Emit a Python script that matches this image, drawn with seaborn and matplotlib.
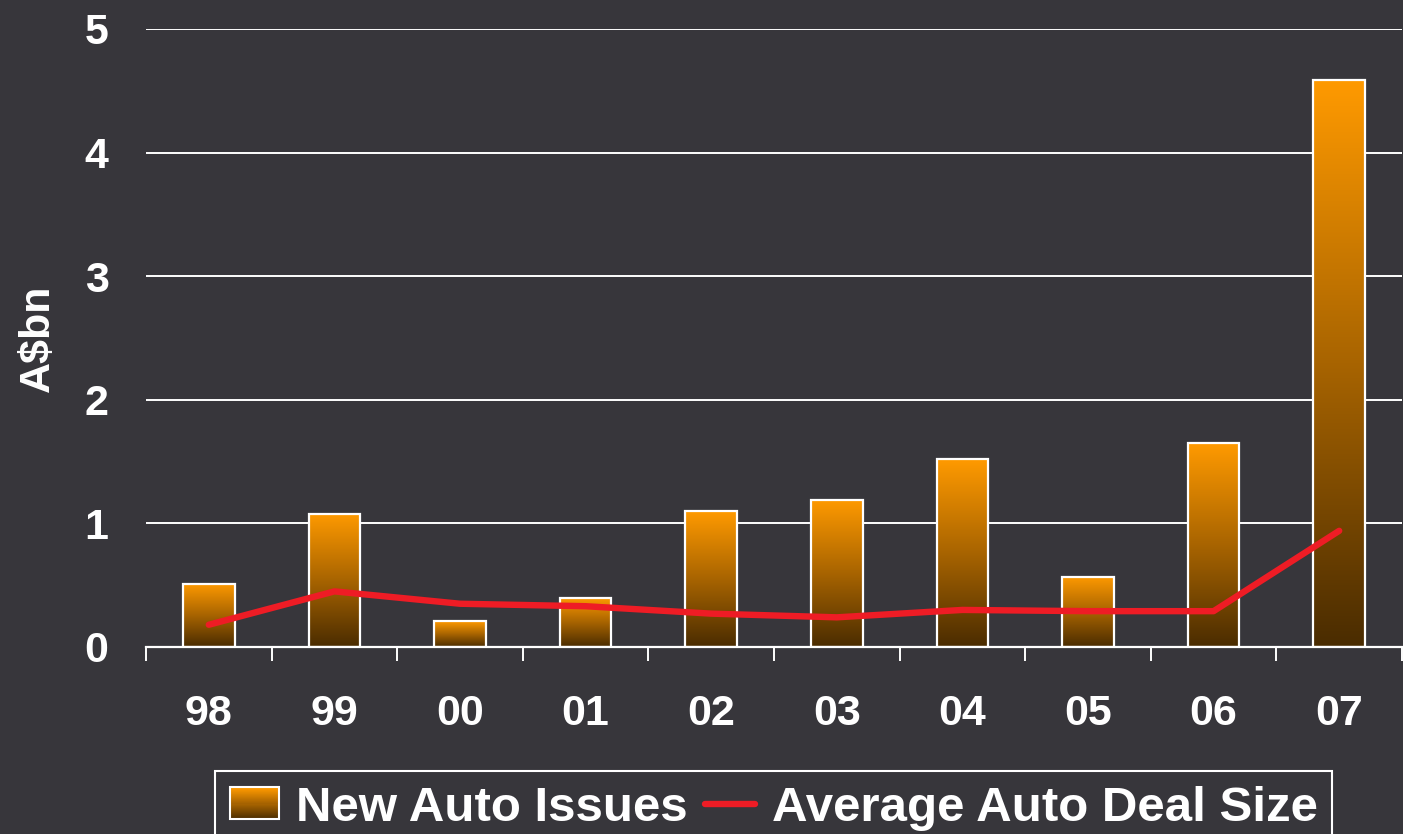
import numpy as np
import pandas as pd
import seaborn as sns
import matplotlib
import matplotlib.pyplot as plt
from matplotlib.colors import LinearSegmentedColormap
from matplotlib.patches import Rectangle
from matplotlib.lines import Line2D
from matplotlib.legend_handler import HandlerBase

matplotlib.use('Agg')

# Data
years = ["98", "99", "00", "01", "02", "03", "04", "05", "06", "07"]
new_issues = [0.51, 1.08, 0.21, 0.40, 1.10, 1.19, 1.52, 0.57, 1.65, 4.59]
avg_deal_size = [0.18, 0.45, 0.35, 0.33, 0.27, 0.24, 0.30, 0.29, 0.29, 0.94]

bg = "#37363b"
bar_cmap = LinearSegmentedColormap.from_list("auto", ["#4a2c00", "#a86400", "#ff9a00"])

sns.set_theme(style="dark")
plt.rcParams['font.family'] = ['Liberation Sans', 'DejaVu Sans']
plt.rcParams['font.weight'] = 'bold'

df = pd.DataFrame({"year": years, "issues": new_issues, "deal": avg_deal_size})

fig = plt.figure(figsize=(14.03, 8.34), dpi=100, facecolor=bg)
ax = fig.add_axes([146 / 1403, 1 - 647 / 834, 1256 / 1403, (647 - 29) / 834])
ax.set_facecolor(bg)

sns.barplot(data=df, x="year", y="issues", width=0.41, ax=ax,
            facecolor="none", edgecolor="white", linewidth=1.6, zorder=3)

# gradient fill inside each bar
grad = np.linspace(0, 1, 256).reshape(-1, 1)
for p in ax.patches:
    x0, w, h = p.get_x(), p.get_width(), p.get_height()
    ax.imshow(grad, extent=[x0, x0 + w, 0, h], origin="lower", aspect="auto",
              cmap=bar_cmap, zorder=2)

sns.lineplot(x=np.arange(len(years)), y=df["deal"], ax=ax, color="#ee1c25",
             linewidth=4.6, zorder=4, solid_capstyle="round")

ax.set_xlim(-0.5, len(years) - 0.5)
ax.set_ylim(0, 5)
ax.set_yticks([0, 1, 2, 3, 4, 5])
ax.grid(axis="y", color="white", linewidth=1.4, zorder=0)
ax.grid(axis="x", visible=False)
for s in ["top", "right", "left"]:
    ax.spines[s].set_visible(False)
ax.spines["bottom"].set_color("white")
ax.spines["bottom"].set_linewidth(1.6)
ax.spines["bottom"].set_zorder(5)

ax.set_xticks(np.arange(len(years)))
ax.set_xticklabels(years)
ax.set_xticks(np.arange(-0.5, len(years)), minor=True)
ax.tick_params(axis="x", which="major", length=0, pad=34, labelsize=31, labelcolor="white")
ax.tick_params(axis="x", which="minor", length=10, width=1.4, color="white", direction="out", bottom=True)
ax.tick_params(axis="y", length=0, pad=27, labelsize=31, labelcolor="white")
for lbl in ax.get_xticklabels() + ax.get_yticklabels():
    lbl.set_fontweight("bold")

ax.set_xlabel("")
ax.set_ylabel("A\\$bn", fontsize=31, fontweight="bold", color="white")
ax.yaxis.set_label_coords(-0.070, 0.5)


class GradientHandler(HandlerBase):
    def create_artists(self, legend, orig_handle, xdescent, ydescent,
                       width, height, fontsize, trans):
        n = 30
        arts = []
        for i in range(n):
            arts.append(Rectangle((-xdescent, -ydescent + i * height / n), width, height / n,
                                  facecolor=bar_cmap((i + 0.5) / n), edgecolor="none",
                                  transform=trans))
        arts.append(Rectangle((-xdescent, -ydescent), width, height, facecolor="none",
                              edgecolor="white", linewidth=1.5, transform=trans))
        return arts


bar_handle = Rectangle((0, 0), 1, 1)
line_handle = Line2D([], [], color="#ee1c25", linewidth=4.6)
leg = fig.legend([bar_handle, line_handle], ["New Auto Issues", "Average Auto Deal Size"],
                 handler_map={Rectangle: GradientHandler()},
                 loc="upper left", bbox_to_anchor=(215 / 1403, 1 - 771 / 834),
                 bbox_transform=fig.transFigure, borderaxespad=0, ncol=2,
                 frameon=True, fancybox=False, facecolor=bg, edgecolor="white",
                 framealpha=1, handlelength=1.0, handleheight=0.62, handletextpad=0.35,
                 columnspacing=0.35, borderpad=0.3,
                 prop={"size": 35.5, "weight": "bold"})
leg.get_frame().set_linewidth(1.5)
for t in leg.get_texts():
    t.set_color("white")

fig.savefig("out.png", dpi=100, facecolor=bg)
